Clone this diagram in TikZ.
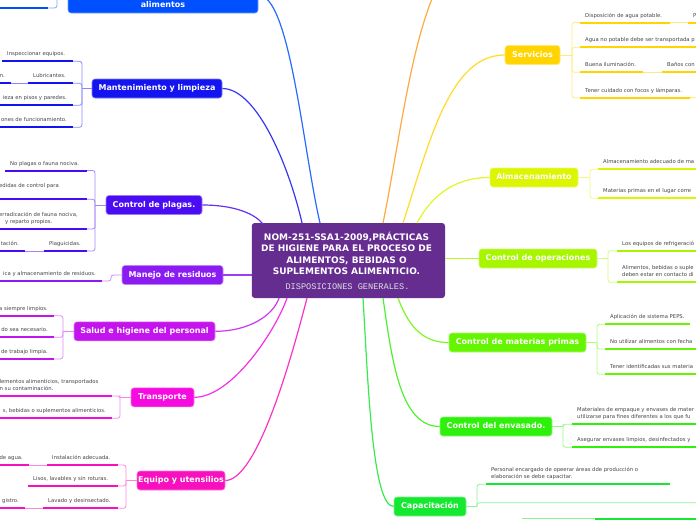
\documentclass[tikz,border=0pt]{standalone}
\usepackage{fontspec}
\setmainfont{DejaVu Sans}
\newfontfamily\submono{Liberation Mono}
\definecolor{cA}{HTML}{0050FF}
\definecolor{cM}{HTML}{1414F0}
\definecolor{cP}{HTML}{4A0CF2}
\definecolor{cR}{HTML}{8A1CF2}
\definecolor{cS}{HTML}{C414EE}
\definecolor{cT}{HTML}{F50AE0}
\definecolor{cE}{HTML}{F80FBE}
\definecolor{cO}{HTML}{FF9A1E}
\definecolor{cV}{HTML}{FFD400}
\definecolor{cL}{HTML}{DCF500}
\definecolor{cK}{HTML}{A8F500}
\definecolor{cQ}{HTML}{66F500}
\definecolor{cN}{HTML}{2EF00A}
\definecolor{cC}{HTML}{14E830}
\definecolor{ctrc}{HTML}{662D91}
\definecolor{leafgray}{HTML}{444444}
\newcommand\leafL[6]{%
  \coordinate (#1a) at (#2,#4);\coordinate (#1b) at (#3,#4);
  \draw[uline=#5] (#1a) -- (#1b);
  \node[ltext] (#1t) at ({#2+5},{#4-5.5}) {#6};}
\newcommand\leafR[6]{%
  \coordinate (#1a) at (#2,#4);\coordinate (#1b) at (#3,#4);
  \draw[uline=#5] (#1a) -- (#1b);
  \node[ltext,anchor=base east] (#1t) at ({#3-6},{#4-5.5}) {#6};}
\begin{document}
\begin{tikzpicture}[x=1pt,y=-1pt,
  branch/.style={rounded corners=3pt, fill=#1, draw=#1!55!white, line width=0.6pt,
    text=white, font=\fontsize{8}{9.6}\selectfont\bfseries, inner sep=0,
    minimum height=19pt, text height=5.9pt, text depth=1.7pt},
  ltext/.style={anchor=base west, inner sep=0, text=leafgray, font=\fontsize{5.3}{6.4}\selectfont},
  uline/.style={line width=2pt, draw=#1},
  bline/.style={line width=0.8pt, draw=#1!50!white, rounded corners=2.5pt},
  conn/.style={line width=1.2pt, draw=#1!85!white},
  ttl/.style={anchor=base, inner sep=0, text=white, font=\fontsize{9}{11}\selectfont\bfseries}]
\useasboundingbox (0,0) rectangle (696,520);
\clip (0,0) rectangle (696,520);

% ---------- centre ----------
\node[fill=ctrc, rounded corners=3pt, minimum width=193.3pt, minimum height=75pt, inner sep=0] (ctr) at (348.4,260.5) {};
\node[ttl] (t1) at (346.5,240) {NOM-251-SSA1-2009,PRÁCTICAS};
\node[ttl] (t2) at (346.5,251.6) {DE HIGIENE PARA EL PROCESO DE};
\node[ttl] (t3) at (346.5,263.2) {ALIMENTOS, BEBIDAS O};
\node[ttl] (t4) at (346.5,274.3) {SUPLEMENTOS ALIMENTICIO.};
\node[anchor=base, inner sep=0, text=white!88!black, font=\submono\fontsize{8.6}{10}\selectfont] (sub) at (347.5,289.5) {DISPOSICIONES GENERALES.};

\coordinate (ctrA) at (320,223);
\coordinate (ctrM) at (302,223);
\coordinate (ctrP) at (263,224);
\coordinate (ctrR) at (252,275);
\coordinate (ctrS) at (279,298);
\coordinate (ctrT) at (287,298);
\coordinate (ctrE) at (307,298);
\coordinate (ctrO) at (383,223);
\coordinate (ctrV) at (403,223);
\coordinate (ctrL) at (417,223);
\coordinate (ctrK) at (445,258.5);
\coordinate (ctrQ) at (398,298);
\coordinate (ctrN) at (383,298);
\coordinate (ctrC) at (363,298);
\coordinate (orTop) at (442,-22);

% ---------- branch nodes ----------
\node[branch=cA, minimum width=190pt, minimum height=36pt] (alim) at (163,-5) {};
\node[anchor=base, inner sep=0, text=white, font=\fontsize{8}{9.6}\selectfont\bfseries] (alimt) at (163,7) {alimentos};
\node[branch=cM, minimum width=130pt] (mant) at (157,88.5) {Mantenimiento y limpieza};
\node[branch=cP, minimum width=96pt] (plag) at (154,205) {Control de plagas.};
\node[branch=cR, minimum width=101pt] (mane) at (172.5,275) {Manejo de residuos};
\node[branch=cS, minimum width=141pt] (salud) at (144.5,331.3) {Salud e higiene del personal};
\node[branch=cT, minimum width=63pt] (trans) at (162.5,397.3) {Transporte};
\node[branch=cE, minimum width=88pt] (equipo) at (181,480.5) {Equipo y utensilios};
\node[branch=cV, minimum width=55pt] (serv) at (532.5,55) {Servicios};
\node[branch=cL, minimum width=88pt] (alma) at (534,177.5) {Almacenamiento};
\node[branch=cK, minimum width=118pt] (oper) at (538,258.5) {Control de operaciones};
\node[branch=cQ, minimum width=137pt] (mat) at (517.5,342.5) {Control de materias primas};
\node[branch=cN, minimum width=112pt] (env) at (496,426.5) {Control del envasado.};
\node[branch=cC, minimum width=72pt] (cap) at (430,506.5) {Capacitación};

% ---------- main connectors ----------
\draw[conn=cA] (alim.east) .. controls (290,-5) and (303,150) .. (ctrA);
\draw[conn=cM] (mant.east) .. controls (258,88.5) and (290,170) .. (ctrM);
\draw[conn=cP] (plag.east) .. controls (235,205) and (255,214) .. (ctrP);
\draw[conn=cR] (mane.east) -- (ctrR);
\draw[conn=cS] (salud.east) .. controls (248,331.3) and (273,316) .. (ctrS);
\draw[conn=cT] (trans.east) .. controls (232,397.3) and (276,330) .. (ctrT);
\draw[conn=cE] (equipo.east) .. controls (257,480.5) and (291,360) .. (ctrE);
\draw[conn=cO] (ctrO) .. controls (400,140) and (412,30) .. (orTop);
\draw[conn=cV] (ctrV) .. controls (430,140) and (450,55) .. (serv.west);
\draw[conn=cL] (ctrL) .. controls (432,195) and (455,177.5) .. (alma.west);
\draw[conn=cK] (ctrK) -- (oper.west);
\draw[conn=cQ] (ctrQ) .. controls (410,330) and (425,342.5) .. (mat.west);
\draw[conn=cN] (ctrN) .. controls (392,360) and (400,426.5) .. (env.west);
\draw[conn=cC] (ctrC) .. controls (368,380) and (372,506.5) .. (cap.west);

% ---------- alimentos ----------
\coordinate (al1a) at (-5,8); \coordinate (al1b) at (48,8); \coordinate (albr) at (57,-20);
\draw[uline=cA] (al1a) -- (al1b);
\draw[bline=cA] (al1b) -| (albr);

% ---------- mantenimiento ----------
\leafL{m1}{2}{73}{61.3}{cM}{Inspeccionar equipos.}
\leafL{m2}{28}{73}{83.3}{cM}{Lubricantes.}
\leafR{m2x}{-10}{11}{83.3}{cM}{n.}
\leafR{m3}{-5}{73}{105.3}{cM}{ieza en pisos y paredes.}
\leafR{m4}{-5}{73}{127.3}{cM}{ones de funcionamiento.}
\coordinate (mbr) at (82,88.5);
\draw[bline=cM] (mant.west) -- (mbr);
\draw[bline=cM] (m1b) -| (mbr) |- (m4b);
\draw[bline=cM] (mbr) |- (m2b);
\draw[bline=cM] (mbr) |- (m3b);
\draw[bline=cM] (m2xb) -- (m2a);

% ---------- plagas ----------
\leafL{p1}{5}{87}{170.5}{cP}{No plagas o fauna nociva.}
\coordinate (p2a) at (-5,199.3); \coordinate (p2b) at (87,199.3);
\draw[uline=cP] (p2a) -- (p2b);
\node[ltext] (p2t) at (-1,187.6) {edidas de control para};
\coordinate (p3a) at (-5,229); \coordinate (p3b) at (87,229);
\draw[uline=cP] (p3a) -- (p3b);
\node[ltext] (p3t) at (-1,216.2) {erradicación de fauna nociva,};
\node[ltext] (p3u) at (5,223.6) {y reparto propios.};
\leafL{p4}{44}{87}{251}{cP}{Plaguicidas.}
\leafR{p4x}{-5}{25}{251}{cP}{tación.}
\coordinate (pbr) at (95,205);
\draw[bline=cP] (plag.west) -- (pbr);
\draw[bline=cP] (p1b) -| (pbr) |- (p4b);
\draw[bline=cP] (pbr) |- (p2b);
\draw[bline=cP] (pbr) |- (p3b);
\draw[bline=cP] (p4xb) -- (p4a);

% ---------- manejo ----------
\leafR{r1}{-5}{102}{281}{cR}{ica y almacenamiento de residuos.}
\coordinate (rbr) at (111,275);
\draw[bline=cR] (mane.west) -- (rbr) |- (r1b);

% ---------- salud ----------
\leafR{s1}{-5}{54}{315.7}{cS}{a siempre limpios.}
\leafR{s2}{-5}{54}{337.3}{cS}{do sea necesario.}
\leafR{s3}{-5}{54}{359}{cS}{de trabajo limpia.}
\coordinate (sbr) at (63,331.3);
\draw[bline=cS] (salud.west) -- (sbr);
\draw[bline=cS] (s1b) -| (sbr) |- (s3b);
\draw[bline=cS] (sbr) |- (s2b);

% ---------- transporte ----------
\coordinate (tr1a) at (-5,396); \coordinate (tr1b) at (112,396);
\draw[uline=cT] (tr1a) -- (tr1b);
\node[ltext] (tr1t) at (-0.5,383.1) {lementos alimenticios, transportados};
\node[ltext] (tr1u) at (-0.5,390.5) {n su contaminación.};
\leafR{tr2}{-5}{112}{418.3}{cT}{s, bebidas o suplementos alimenticios.}
\coordinate (tbr) at (120,397.3);
\draw[bline=cT] (trans.west) -- (tbr);
\draw[bline=cT] (tr1b) -| (tbr) |- (tr2b);

% ---------- equipo ----------
\leafL{e1}{47}{118}{465}{cE}{Instalación adecuada.}
\leafR{e1x}{-5}{29}{465}{cE}{de agua.}
\leafL{e2}{28}{118}{486}{cE}{Lisos, lavables y sin roturas.}
\leafL{e3}{43}{118}{508.3}{cE}{Lavado y desinsectado.}
\leafR{e3x}{-5}{25}{508.3}{cE}{gistro.}
\coordinate (ebr) at (126,480.5);
\draw[bline=cE] (equipo.west) -- (ebr);
\draw[bline=cE] (e1b) -| (ebr) |- (e3b);
\draw[bline=cE] (ebr) |- (e2b);
\draw[bline=cE] (e1xb) -- (e1a);
\draw[bline=cE] (e3xb) -- (e3a);

% ---------- servicios ----------
\leafL{v1}{580}{670}{22.5}{cV}{Disposición de agua potable.}
\leafL{v1x}{688}{710}{22.5}{cV}{P}
\leafL{v2}{580}{710}{47.3}{cV}{Agua no potable debe ser transportada p}
\leafL{v3}{580}{643}{72.3}{cV}{Buena iluminación.}
\leafL{v3x}{662}{710}{72.3}{cV}{Baños con}
\leafL{v4}{580}{690}{97.7}{cV}{Tener cuidado con focos y lámparas.}
\coordinate (v4e) at (710,97.7);
\coordinate (vbr) at (572,55);
\draw[bline=cV] (serv.east) -- (vbr);
\draw[bline=cV] (v1a) -| (vbr) |- (v4a);
\draw[bline=cV] (vbr) |- (v2a);
\draw[bline=cV] (vbr) |- (v3a);
\draw[bline=cV] (v1b) -- (v1xa);
\draw[bline=cV] (v3b) -- (v3xa);
\draw[bline=cV] (v4b) -- (v4e);

% ---------- almacenamiento ----------
\leafL{a1}{598}{710}{169.3}{cL}{Almacenamiento adecuado de ma}
\leafL{a2}{598}{710}{198.3}{cL}{Materias primas en el lugar corre}
\coordinate (abr) at (590,177.5);
\draw[bline=cL] (alma.east) -- (abr);
\draw[bline=cL] (a1a) -| (abr) |- (a2a);

% ---------- control de operaciones ----------
\leafL{o1}{617}{710}{250.7}{cK}{Los equipos de refrigeració}
\coordinate (o2a) at (617,282.3); \coordinate (o2b) at (710,282.3);
\draw[uline=cK] (o2a) -- (o2b);
\node[ltext] (o2t) at (622,269.4) {Alimentos, bebidas o suple};
\node[ltext] (o2u) at (622,276.8) {deben estar en contacto di};
\coordinate (obr) at (608,258.5);
\draw[bline=cK] (oper.east) -- (obr);
\draw[bline=cK] (o1a) -| (obr) |- (o2a);

% ---------- materias primas ----------
\leafL{q1}{605}{690}{324.3}{cQ}{Aplicación de sistema PEPS.}
\leafL{q2}{605}{710}{349}{cQ}{No utilizar alimentos con fecha}
\leafL{q3}{605}{710}{374.3}{cQ}{Tener identificadas sus materia}
\coordinate (qbr) at (597,342.5);
\draw[bline=cQ] (mat.east) -- (qbr);
\draw[bline=cQ] (q1a) -| (qbr) |- (q3a);
\draw[bline=cQ] (qbr) |- (q2a);

% ---------- envasado ----------
\coordinate (n1a) at (572,424.3); \coordinate (n1b) at (710,424.3);
\draw[uline=cN] (n1a) -- (n1b);
\node[ltext] (n1t) at (577,411.4) {Materiales de empaque y envases de mater};
\node[ltext] (n1u) at (577,418.8) {utilizarse para fines diferentes a los que fu};
\leafL{n2}{572}{710}{447.3}{cN}{Asegurar envases limpios, desinfectados y}
\coordinate (nbr) at (563,426.5);
\draw[bline=cN] (env.east) -- (nbr);
\draw[bline=cN] (n1a) -| (nbr) |- (n2a);

% ---------- capacitacion ----------
\coordinate (c1a) at (486,484.3); \coordinate (c1b) at (670,484.3);
\draw[uline=cC] (c1a) -- (c1b);
\node[ltext] (c1t) at (491,471.4) {Personal encargado de opeerar áreas dde producción o};
\node[ltext] (c1u) at (491,478.8) {elaboración se debe capacitar.};
\coordinate (cbr) at (477,506.5);
\coordinate (c2e) at (710,502.7);
\draw[bline=cC] (cap.east) -- (cbr);
\draw[bline=cC] (cbr) |- (c1a);
\draw[bline=cC] (cbr) |- (c2e);
\coordinate (x1) at (522,518.5); \coordinate (x2) at (595,518.5); \coordinate (x3) at (710,518.5);
\draw[bline=cC] (x1) -- (x2);
\draw[uline=cC] (x2) -- (x3);
\end{tikzpicture}
\end{document}
